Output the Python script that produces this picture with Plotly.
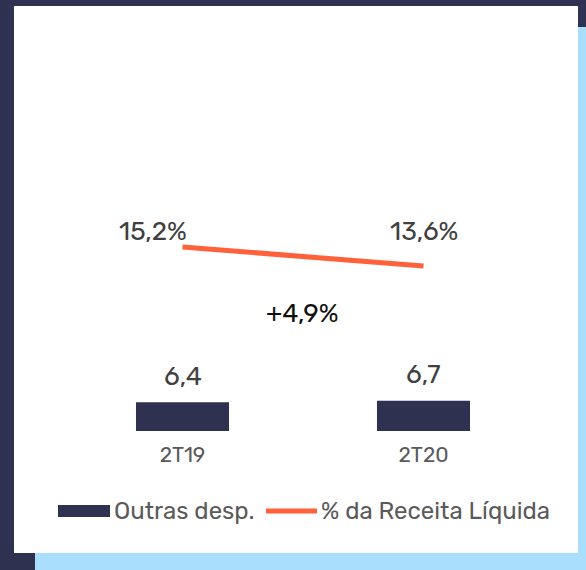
import plotly.graph_objects as go

W, H = 586, 570

# data
periods = ["2T19", "2T20"]
outras_desp = [6.4, 6.7]
pct_receita = [15.2, 13.6]
variacao_label = "+4,9%"

NAVY = "#2e3150"
ORANGE = "#ff623a"
LIGHT_BLUE = "#a9dffd"
FONT = "Rubik, Roboto, 'Noto Sans', sans-serif"


def px(x):
    return x / W


def py(y):
    return 1 - y / H


def br(v):
    return f"{v:.1f}".replace(".", ",")


fig = go.Figure()

fig.add_trace(go.Bar(
    name="Outras desp.",
    x=periods,
    y=outras_desp,
    marker_color=NAVY,
    marker_line_width=0,
    showlegend=False,
))

fig.add_trace(go.Scatter(
    name="% da Receita Líquida",
    x=periods,
    y=pct_receita,
    mode="lines",
    line=dict(color=ORANGE, width=5),
    yaxis="y2",
    showlegend=False,
))

annotations = []
# bar value labels
for p, v in zip(periods, outras_desp):
    annotations.append(dict(
        x=p, y=v, xref="x", yref="y", text=br(v), showarrow=False,
        yanchor="middle", yshift=26,
        font=dict(size=26, color="#404040", family=FONT),
    ))
# line labels
line_lbl_pos = [("right", 6), ("center", 0)]
for (p, v), (anchor, xs) in zip(zip(periods, pct_receita), line_lbl_pos):
    annotations.append(dict(
        x=p, y=py(232), xref="x", yref="paper", text=br(v) + "%",
        showarrow=False, xanchor=anchor, yanchor="middle", xshift=xs,
        font=dict(size=26, color="#404040", family=FONT),
    ))
annotations.append(dict(
    x=px(302), y=py(313), xref="paper", yref="paper", text=variacao_label,
    showarrow=False, yanchor="middle",
    font=dict(size=26, color="#111111", family=FONT),
))
# custom legend
annotations.append(dict(
    x=px(112), y=py(511), xref="paper", yref="paper", text="Outras desp.",
    showarrow=False, xanchor="left", yanchor="middle",
    font=dict(size=24, color="#5a5a5a", family=FONT),
))
annotations.append(dict(
    x=px(319), y=py(511), xref="paper", yref="paper", text="% da Receita Líquida",
    showarrow=False, xanchor="left", yanchor="middle",
    font=dict(size=24, color="#5a5a5a", family=FONT),
))

shapes = [
    dict(type="rect", xref="paper", yref="paper", x0=px(35), x1=1, y0=0, y1=py(27),
         fillcolor=LIGHT_BLUE, line_width=0, layer="below"),
    dict(type="rect", xref="paper", yref="paper", x0=px(14), x1=px(578), y0=py(553), y1=py(6),
         fillcolor="white", line_width=0, layer="below"),
    dict(type="rect", xref="paper", yref="paper", x0=px(58), x1=px(110), y0=py(517), y1=py(505),
         fillcolor=NAVY, line_width=0),
    dict(type="line", xref="paper", yref="paper", x0=px(266), x1=px(317), y0=py(511), y1=py(511),
         line=dict(color=ORANGE, width=5)),
]

fig.update_layout(
    width=W, height=H,
    margin=dict(l=0, r=0, t=0, b=0),
    paper_bgcolor=NAVY,
    plot_bgcolor="rgba(0,0,0,0)",
    separators=",.",
    bargap=0.614,
    showlegend=False,
    annotations=annotations,
    shapes=shapes,
    xaxis=dict(
        domain=[px(62), px(544)], range=[-0.5, 1.5],
        showgrid=False, zeroline=False, showline=False, ticks="",
        tickfont=dict(size=21, color="#595959", family=FONT),
        ticklabelstandoff=9,
    ),
    yaxis=dict(
        domain=[py(431), py(150)], range=[0, 281 / 4.5],
        visible=False,
    ),
    yaxis2=dict(
        domain=[py(431), py(150)], range=[-0.3, 23.37],
        overlaying="y", visible=False,
    ),
)

fig.write_html("out.html", config={"displayModeBar": False},
               post_script="document.body.style.margin='0';")
